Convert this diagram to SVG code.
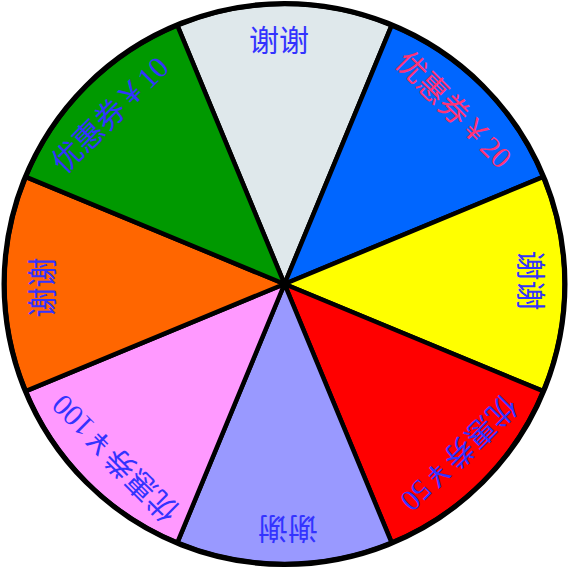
<svg xmlns="http://www.w3.org/2000/svg" width="571" height="569" viewBox="0 0 571 569">
<style>
.seg{stroke:#000;stroke-width:4.5;stroke-linejoin:round}
.lbl{font-family:"Liberation Serif","Noto Sans CJK SC",serif;font-size:30px;text-anchor:middle;dominant-baseline:central;fill:#3333ff}
.pink{fill:#ff3377}
</style>
<rect width="571" height="569" fill="#ffffff"/>
<g id="seg0"><path class="seg" d="M284.5 284 L177.35 25.31 A280 280 0 0 1 391.65 25.31 Z" fill="#dfe8eb"/><text class="lbl" x="279" y="40">谢谢</text></g>
<g id="seg1"><path class="seg" d="M284.5 284 L391.65 25.31 A280 280 0 0 1 543.19 176.85 Z" fill="#0066ff"/><text class="lbl pink" x="281" y="41" transform="rotate(45 284.5 284)">优惠券￥20</text></g>
<g id="seg2"><path class="seg" d="M284.5 284 L543.19 176.85 A280 280 0 0 1 543.19 391.15 Z" fill="#ffff00"/><text class="lbl" x="281" y="38" transform="rotate(90 284.5 284)">谢谢</text></g>
<g id="seg3"><path class="seg" d="M284.5 284 L543.19 391.15 A280 280 0 0 1 391.65 542.69 Z" fill="#ff0000"/><text class="lbl" x="281" y="41" transform="rotate(135 284.5 284)">优惠券￥50</text></g>
<g id="seg4"><path class="seg" d="M284.5 284 L391.65 542.69 A280 280 0 0 1 177.35 542.69 Z" fill="#9999ff"/><text class="lbl" x="281" y="40" transform="rotate(180 284.5 284)">谢谢</text></g>
<g id="seg5"><path class="seg" d="M284.5 284 L177.35 542.69 A280 280 0 0 1 25.81 391.15 Z" fill="#ff99ff"/><text class="lbl" x="281" y="41" transform="rotate(225 284.5 284)">优惠券￥100</text></g>
<g id="seg6"><path class="seg" d="M284.5 284 L25.81 391.15 A280 280 0 0 1 25.81 176.85 Z" fill="#ff6600"/><text class="lbl" x="281" y="42" transform="rotate(270 284.5 284)">谢谢</text></g>
<g id="seg7"><path class="seg" d="M284.5 284 L25.81 176.85 A280 280 0 0 1 177.35 25.31 Z" fill="#009900"/><text class="lbl" x="281" y="41" transform="rotate(315 284.5 284)">优惠券￥10</text></g>
<g id="connectors"><circle cx="284.5" cy="284" r="280.5" fill="none" stroke="#000" stroke-width="5"/></g>
</svg>
